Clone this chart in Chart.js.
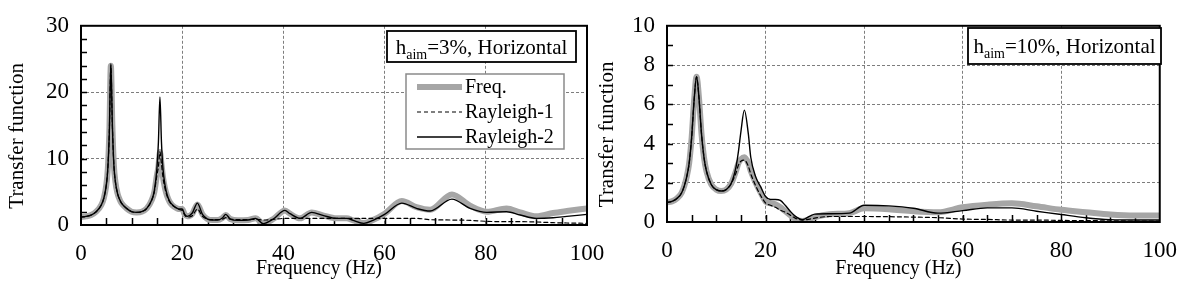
<!DOCTYPE html>
<html>
<head>
<meta charset="utf-8">
<script src="https://cdn.jsdelivr.net/npm/chart.js@4.4.1/dist/chart.umd.min.js"></script>
<style>
  html, body { margin: 0; padding: 0; background: #fff; }
  #wrap { position: relative; width: 1192px; height: 285px; overflow: hidden; }
  canvas { position: absolute; top: 0; }
  #left { left: 0; }
  #right { left: 590px; }
</style>
</head>
<body>
<div id="wrap">
  <canvas id="left" width="620" height="285"></canvas>
  <canvas id="right" width="602" height="285"></canvas>
</div>
<script>
// ---- data ----
const seriesNames = ["Freq.", "Rayleigh-1", "Rayleigh-2"];

// left panel: h_aim = 3%
const fL = [0,1,2,3,4,4.5,5,5.3,5.6,5.9,6.2,6.5,6.8,7.2,7.6,8,9,10,11,12,13,14,14.5,15,15.3,15.6,15.9,16.2,16.6,17,17.5,18,19,19.5,20,20.5,21,22,23,24,25,26,27,28,28.6,29.5,31,33,34.5,36,38,40.3,41.3,43.3,45.6,47.8,50.5,52.5,53.8,55.9,57.7,60,63.4,66.3,69,73.3,76.9,80.2,84.1,86.8,90,93.3,96,100];
const freqL = [1.2,1.3,1.5,2.0,3.0,4.0,6.0,8.5,14,24,15,9,6.5,4.8,3.9,3.3,2.5,2.0,1.9,2.0,2.5,3.8,5.0,7.5,8.8,11,9.2,7.2,5.5,4.4,3.5,3.0,2.5,2.4,2.4,1.6,1.3,1.7,3.1,1.6,0.9,0.75,0.75,1.1,1.5,0.9,0.7,0.75,1.0,0.25,0.9,2.2,1.7,1.0,1.9,1.45,1.0,1.0,0.7,0.3,0.75,1.7,3.6,2.7,2.3,4.6,2.9,2.0,2.5,1.9,1.3,1.8,2.1,2.5];
const ray1L = [1.2,1.3,1.5,2.0,3.0,4.0,6.0,8.5,14,24,15,9,6.5,4.8,3.9,3.3,2.5,2.0,1.9,2.0,2.5,3.8,5.0,7.5,8.8,11,9.2,7.2,5.5,4.4,3.5,3.0,2.5,2.3,2.2,1.5,1.2,1.4,2.4,1.3,0.9,0.8,0.8,0.9,1.1,0.9,0.8,0.8,0.85,0.75,0.85,1.0,1.0,1.0,1.0,1.0,1.0,1.0,1.0,1.0,1.0,1.0,1.0,1.0,0.8,0.75,0.7,0.55,0.5,0.5,0.45,0.35,0.3,0.25];
const ray2L = [1.2,1.3,1.5,2.0,3.0,4.0,6.0,8.5,14,24.3,15,9,6.5,4.8,3.9,3.3,2.5,2.0,1.9,2.0,2.5,3.8,5.2,8.5,12.5,19.3,12.5,8.5,6.0,4.6,3.6,3.1,2.5,2.4,2.4,1.6,1.3,1.8,3.3,1.6,0.9,0.75,0.75,1.1,1.6,0.9,0.7,0.75,1.0,0.2,0.9,2.2,1.7,1.0,1.9,1.45,1.0,1.0,0.7,0.25,0.7,1.6,3.3,2.5,2.1,3.9,2.5,1.9,2.0,1.5,1.0,1.1,1.3,1.6];

// right panel: h_aim = 10%
const fR = [0,1,2,3,4,4.5,5,5.5,6,6.5,7,7.5,8,9,10,11,12,13,14,14.5,15,15.7,16.5,17,18,19,20,21,22,23,24,25,26,27.5,29,30,33,37,40,45,50,55,60,65,70,75,80,85,90,95,100];
const freqR = [1.0,1.05,1.2,1.5,2.3,3.0,4.3,6.2,7.4,6.3,4.5,3.3,2.6,1.9,1.65,1.58,1.65,1.95,2.6,3.0,3.2,3.3,3.0,2.6,2.0,1.5,1.05,0.95,0.9,0.75,0.55,0.35,0.15,0.05,0.15,0.25,0.4,0.45,0.7,0.65,0.55,0.5,0.75,0.88,0.95,0.8,0.62,0.5,0.38,0.33,0.33];
const ray1R = [1.0,1.05,1.2,1.5,2.3,3.0,4.3,6.2,7.4,6.3,4.5,3.3,2.6,1.9,1.65,1.58,1.65,1.95,2.5,2.9,3.1,3.15,2.85,2.45,1.85,1.35,0.97,0.85,0.75,0.6,0.5,0.35,0.2,0.1,0.15,0.2,0.28,0.28,0.28,0.27,0.25,0.22,0.15,0.13,0.1,0.1,0.08,0.07,0.06,0.05,0.05];
const ray2R = [1.0,1.05,1.2,1.5,2.3,3.0,4.3,6.2,7.4,6.3,4.5,3.3,2.6,1.9,1.65,1.58,1.65,1.95,2.8,3.6,4.6,5.7,4.5,3.3,2.3,1.8,1.3,1.15,1.15,1.1,0.85,0.55,0.3,0.12,0.3,0.4,0.42,0.45,0.85,0.82,0.7,0.45,0.58,0.72,0.72,0.55,0.38,0.22,0.12,0.1,0.1];

const xTicks = [0, 20, 40, 60, 80, 100];

const SERIF = "'Liberation Serif', 'Times New Roman', serif";
const GRID = "#7d7d7d";
// en spaces nudge the centred axis titles a little off-centre, as in the original
const EN = "\u2002";

function pts(xs, ys) {
  return xs.map((x, i) => ({ x, y: ys[i] }));
}

// minor ticks, frame, label box and legend box
const decor = {
  id: "decor",
  beforeDatasetsDraw(chart, args, o) {
    const { ctx, chartArea: a, scales } = chart;
    ctx.save();
    ctx.strokeStyle = "#000";
    ctx.lineWidth = 1.5;
    ctx.beginPath();
    for (let v = 5; v < 100; v += 5) {
      const px = Math.round(scales.x.getPixelForValue(v)) + 0.5;
      ctx.moveTo(px, a.bottom);
      ctx.lineTo(px, a.bottom - 7);
    }
    for (let v = o.yMinor; v < scales.y.max; v += o.yMinor) {
      const py = Math.round(scales.y.getPixelForValue(v)) + 0.5;
      ctx.moveTo(a.left, py);
      ctx.lineTo(a.left + 6, py);
    }
    ctx.stroke();
    ctx.restore();
  },
  afterDatasetsDraw(chart, args, o) {
    const { ctx, chartArea: a } = chart;
    ctx.save();
    // frame
    ctx.strokeStyle = "#000";
    ctx.lineWidth = 2;
    ctx.strokeRect(a.left, a.top, a.right - a.left, a.bottom - a.top);

    // label box  h_aim=..%, Horizontal
    const b = o.label;
    ctx.fillStyle = "#fff";
    ctx.fillRect(b.x, b.y, b.w, b.h);
    ctx.lineWidth = 1.8;
    ctx.strokeRect(b.x, b.y, b.w, b.h);
    const big = "21px " + SERIF, small = "14px " + SERIF;
    ctx.font = big;
    const w1 = ctx.measureText("h").width;
    const w3 = ctx.measureText(b.rest).width;
    ctx.font = small;
    const w2 = ctx.measureText("aim").width;
    let tx = b.x + (b.w - (w1 + w2 + w3)) / 2;
    const base = b.y + b.h / 2 + 7;
    ctx.fillStyle = "#000";
    ctx.textBaseline = "alphabetic";
    ctx.textAlign = "left";
    ctx.font = big;
    ctx.fillText("h", tx, base);
    ctx.font = small;
    ctx.fillText("aim", tx + w1, base + 5);
    ctx.font = big;
    ctx.fillText(b.rest, tx + w1 + w2, base);

    // legend box
    const L = o.legend;
    if (L) {
      ctx.fillStyle = "#fff";
      ctx.fillRect(L.x, L.y, L.w, L.h);
      ctx.strokeStyle = "#8a8a8a";
      ctx.lineWidth = 1.5;
      ctx.strokeRect(L.x, L.y, L.w, L.h);
      ctx.font = "20px " + SERIF;
      ctx.textBaseline = "middle";
      chart.data.datasets.forEach((ds, i) => {
        const y = L.y + 13 + i * 25;
        ctx.strokeStyle = ds.borderColor;
        ctx.lineWidth = ds.borderWidth;
        ctx.setLineDash(ds.borderDash || []);
        ctx.beginPath();
        ctx.moveTo(L.x + 11, y);
        ctx.lineTo(L.x + 56, y);
        ctx.stroke();
        ctx.setLineDash([]);
        ctx.fillStyle = "#000";
        ctx.fillText(ds.label, L.x + 59, y + 1);
      });
    }
    ctx.restore();
  },
};

function makeChart(id, xs, ys, yMax, yStep, yMinor, pad, yWidth, xHeight, label, legend) {
  return new Chart(document.getElementById(id), {
    type: "line",
    data: {
      datasets: [
        { label: seriesNames[0], data: pts(xs, ys[0]), borderColor: "#a6a6a6", borderWidth: 6, order: 3 },
        { label: seriesNames[1], data: pts(xs, ys[1]), borderColor: "#000", borderWidth: 1.2, borderDash: [4, 3], order: 2 },
        { label: seriesNames[2], data: pts(xs, ys[2]), borderColor: "#000", borderWidth: 1.4, order: 1 },
      ],
    },
    options: {
      responsive: false,
      animation: false,
      devicePixelRatio: 1,
      layout: { padding: pad },
      elements: {
        point: { radius: 0 },
        line: { cubicInterpolationMode: "monotone", borderJoinStyle: "round", borderCapStyle: "round" },
      },
      plugins: {
        legend: { display: false },
        tooltip: { enabled: false },
        decor: { yMinor, label, legend },
      },
      scales: {
        x: {
          type: "linear",
          min: 0,
          max: 100,
          afterBuildTicks: (s) => { s.ticks = xTicks.map((v) => ({ value: v })); },
          afterFit: (s) => { s.height = xHeight; },
          ticks: { color: "#000", font: { family: SERIF, size: 23 }, padding: 15, maxRotation: 0 },
          grid: { color: GRID, lineWidth: 1, drawTicks: false },
          border: { display: false, dash: [3, 2] },
          title: { display: true, text: "Frequency (Hz)" + EN + EN + EN, color: "#000", font: { family: SERIF, size: 20 }, padding: { bottom: 4 } },
        },
        y: {
          min: 0,
          max: yMax,
          afterFit: (s) => { s.width = yWidth; },
          ticks: { stepSize: yStep, color: "#000", font: { family: SERIF, size: 23 }, padding: 12 },
          grid: { color: GRID, lineWidth: 1, drawTicks: false },
          border: { display: false, dash: [3, 2] },
          title: { display: true, text: "Transfer function" + EN + EN, color: "#000", font: { family: SERIF, size: 21 }, padding: { top: 5 } },
        },
      },
    },
    plugins: [decor],
  });
}

makeChart("left", fL, [freqL, ray1L, ray2L], 30, 10, 2,
  { left: 0, top: 19, right: 33, bottom: 0 }, 81, 60,
  { x: 387, y: 31, w: 189, h: 31, rest: "=3%, Horizontal" },
  { x: 406, y: 74, w: 158, h: 75 });

makeChart("right", fR, [freqR, ray1R, ray2R], 10, 2, 1,
  { left: 0, top: 13, right: 21, bottom: 0 }, 77, 63,
  { x: 378, y: 28, w: 193, h: 36, rest: "=10%, Horizontal" },
  null);
</script>
</body>
</html>
